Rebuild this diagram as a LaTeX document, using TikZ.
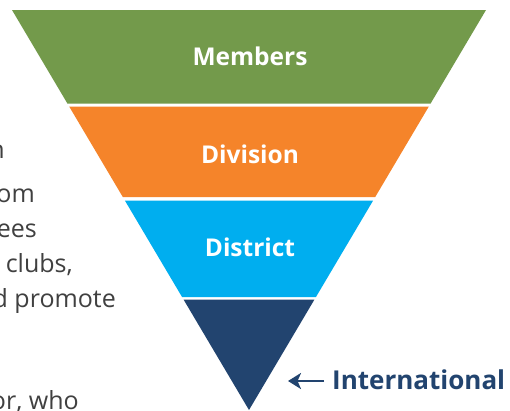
\documentclass[tikz,border=0pt]{standalone}
\usepackage{fontspec}
\setmainfont{Open Sans}
\usetikzlibrary{calc,arrows.meta}
\definecolor{cgreen}{HTML}{739A4B}
\definecolor{corange}{HTML}{F5842A}
\definecolor{cblue}{HTML}{00AEEF}
\definecolor{cnavy}{HTML}{22446F}
\definecolor{sidegray}{HTML}{404040}
\begin{document}
\begin{tikzpicture}[x=1pt,y=-1pt,
  bandlabel/.style={text=white, inner sep=0pt, font=\bfseries\fontsize{24.5}{28}\selectfont},
  sidetext/.style={text=sidegray, inner sep=0pt, anchor=base east, font=\fontsize{25}{30}\selectfont},
  intlabel/.style={text=cnavy, inner sep=0pt, anchor=west, font=\bfseries\fontsize{26}{30}\selectfont}]
\useasboundingbox (0,0) rectangle (510,410);
\clip (0,0) rectangle (510,410);
\fill[white] (0,0) rectangle (510,410);
\coordinate (A) at (12,10);
\coordinate (B) at (486,10);
\coordinate (C) at (249,410);
% bands
\fill[cgreen] (A) -- (B) -- ($(B)!0.23375!(C)$) -- ($(A)!0.23375!(C)$) -- cycle;
\fill[corange] ($(A)!0.24125!(C)$) -- ($(B)!0.24125!(C)$) -- ($(B)!0.4675!(C)$) -- ($(A)!0.4675!(C)$) -- cycle;
\fill[cblue] ($(A)!0.47625!(C)$) -- ($(B)!0.47625!(C)$) -- ($(B)!0.7175!(C)$) -- ($(A)!0.7175!(C)$) -- cycle;
\fill[cnavy] ($(A)!0.72375!(C)$) -- ($(B)!0.72375!(C)$) -- (C) -- cycle;
% labels
\node[bandlabel] (members) at (250,56) {Members};
\node[bandlabel] (division) at (250,154) {Division};
\node[bandlabel] (district) at (250,247.5) {District};
\node[intlabel] (intl) at (332,380) {International};
\coordinate (arrowtip) at (288,381);
\draw[cnavy, line width=2.3pt, -{Stealth[length=13pt,width=16pt,inset=3.5pt]}] ($(intl.west)+(-8,1)$) -- (arrowtip);
% side text fragments (cut off at the left edge, as in the reference)
\node[sidetext] (s1) at (5,158) {n};
\node[sidetext] (s2) at (35,202) {om};
\node[sidetext] (s3) at (37,237) {ees};
\node[sidetext] (s4) at (73,272) {s clubs,};
\node[sidetext] (s5) at (116,307) {d promote};
\node[sidetext] (s6) at (79,409) {or, who};
\end{tikzpicture}
\end{document}
